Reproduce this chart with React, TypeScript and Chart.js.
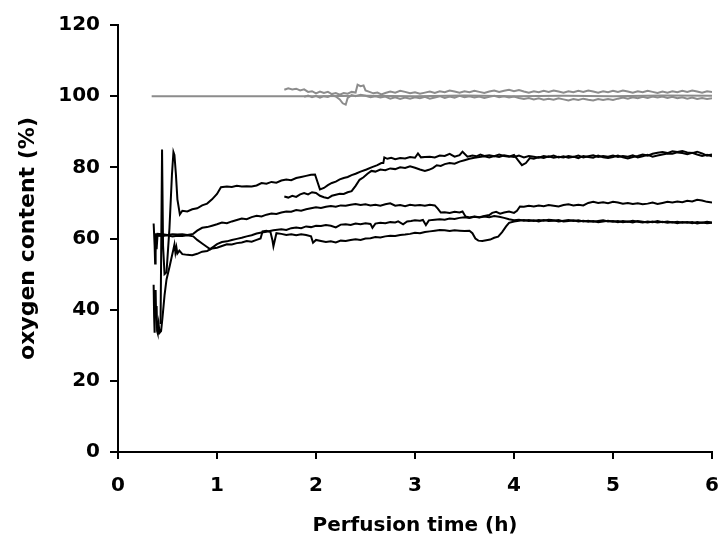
import React, { useEffect, useRef } from "react";
import { Chart, registerables } from "chart.js";

Chart.register(...registerables);

const X_MIN = 0;
const X_MAX = 6;
const Y_MIN = 0;
const Y_MAX = 120;
const X_TITLE = "Perfusion time (h)";
const Y_TITLE = "oxygen content (%)";

// [time (h), oxygen content (%)]
const grey1: [number, number][] = [
  [0.34, 100], [1.0, 100], [1.7, 100], [2.0, 100], [2.5, 100.1], [3.0, 100], [3.5, 100.2],
  [4.0, 100], [4.5, 100.1], [5.0, 100], [5.5, 100.2], [6.0, 100.1],
];

const grey2: [number, number][] = [
  [1.68, 101.8], [1.72, 102.2], [1.76, 101.9], [1.8, 102.1], [1.84, 101.6], [1.88, 101.9], [1.92, 101.2],
  [1.96, 101.4], [2.0, 100.8], [2.04, 101.3], [2.08, 100.9], [2.12, 101.2], [2.16, 100.6], [2.2, 100.9],
  [2.24, 100.4], [2.28, 100.9], [2.32, 100.7], [2.36, 101.2], [2.4, 101.0], [2.42, 103.2], [2.45, 102.8],
  [2.48, 103.0], [2.5, 101.6], [2.54, 101.2], [2.58, 100.8], [2.62, 101.0], [2.66, 100.5], [2.7, 100.9],
  [2.75, 101.3], [2.8, 101.0], [2.85, 101.5], [2.9, 101.2], [2.95, 100.8], [3.0, 101.1], [3.05, 100.7],
  [3.1, 101.0], [3.15, 101.3], [3.2, 100.9], [3.25, 101.4], [3.3, 101.1], [3.35, 101.6], [3.4, 101.3],
  [3.45, 101.0], [3.5, 101.4], [3.55, 101.1], [3.6, 101.5], [3.65, 101.2], [3.7, 100.9], [3.75, 101.3],
  [3.8, 101.6], [3.85, 101.2], [3.9, 101.5], [3.95, 101.8], [4.0, 101.4], [4.05, 101.7], [4.1, 101.3],
  [4.15, 101.0], [4.2, 101.4], [4.25, 101.1], [4.3, 101.5], [4.35, 101.2], [4.4, 101.6], [4.45, 101.3],
  [4.5, 101.0], [4.55, 101.4], [4.6, 101.1], [4.65, 101.5], [4.7, 101.2], [4.75, 101.6], [4.8, 101.3],
  [4.85, 101.0], [4.9, 101.4], [4.95, 101.1], [5.0, 101.5], [5.05, 101.2], [5.1, 101.6], [5.15, 101.3],
  [5.2, 101.0], [5.25, 101.4], [5.3, 101.1], [5.35, 101.5], [5.4, 101.2], [5.45, 100.9], [5.5, 101.3],
  [5.55, 101.0], [5.6, 101.4], [5.65, 101.1], [5.7, 101.5], [5.75, 101.2], [5.8, 101.6], [5.85, 101.3],
  [5.9, 101.0], [5.95, 101.4], [6.0, 101.2],
];

const grey3: [number, number][] = [
  [1.88, 99.8], [1.92, 100.2], [1.96, 99.7], [2.0, 100.1], [2.04, 99.6], [2.08, 100.0], [2.12, 99.8],
  [2.16, 100.3], [2.2, 99.9], [2.24, 99.1], [2.27, 98.0], [2.3, 97.6], [2.32, 99.5], [2.36, 100.3],
  [2.4, 100.0], [2.45, 100.4], [2.5, 100.1], [2.55, 99.7], [2.6, 100.0], [2.65, 99.6], [2.7, 99.9],
  [2.75, 99.3], [2.8, 99.7], [2.85, 99.2], [2.9, 99.6], [2.95, 99.3], [3.0, 99.7], [3.05, 99.4],
  [3.1, 99.8], [3.15, 99.3], [3.2, 99.6], [3.25, 100.0], [3.3, 99.5], [3.35, 99.9], [3.4, 99.6],
  [3.45, 100.1], [3.5, 99.7], [3.55, 100.0], [3.6, 99.6], [3.65, 99.9], [3.7, 99.5], [3.75, 99.8],
  [3.8, 100.1], [3.85, 99.7], [3.9, 100.0], [3.95, 99.6], [4.0, 99.9], [4.05, 99.5], [4.1, 99.2],
  [4.15, 99.5], [4.2, 99.1], [4.25, 99.4], [4.3, 99.0], [4.35, 99.3], [4.4, 99.0], [4.45, 99.4],
  [4.5, 99.1], [4.55, 98.8], [4.6, 99.2], [4.65, 98.9], [4.7, 99.3], [4.75, 99.0], [4.8, 98.8],
  [4.85, 99.2], [4.9, 98.9], [4.95, 99.2], [5.0, 98.9], [5.05, 99.3], [5.1, 99.6], [5.15, 99.3],
  [5.2, 99.7], [5.25, 99.4], [5.3, 99.8], [5.35, 99.5], [5.4, 99.9], [5.45, 99.6], [5.5, 99.9],
  [5.55, 99.5], [5.6, 99.8], [5.65, 99.4], [5.7, 99.7], [5.75, 99.3], [5.8, 99.6], [5.85, 99.2],
  [5.9, 99.5], [5.95, 99.2], [6.0, 99.4],
];

const upper1: [number, number][] = [
  [0.43, 36], [0.445, 85], [0.455, 58], [0.47, 50], [0.49, 50.5], [0.52, 63], [0.545, 78], [0.56, 84.3],
  [0.57, 83.5], [0.585, 78], [0.6, 71], [0.625, 66.8], [0.65, 67.8], [0.7, 67.6], [0.75, 68.2], [0.8, 68.5],
  [0.85, 69.3], [0.9, 69.8], [0.95, 71.0], [1.0, 72.5], [1.04, 74.4], [1.1, 74.6], [1.15, 74.5], [1.2, 74.8],
  [1.25, 74.6], [1.3, 74.7], [1.35, 74.6], [1.4, 74.9], [1.45, 75.6], [1.5, 75.4], [1.55, 75.9], [1.6, 75.7],
  [1.65, 76.3], [1.7, 76.6], [1.75, 76.4], [1.8, 77.0], [1.85, 77.3], [1.9, 77.6], [1.95, 77.9], [1.99, 78.0],
  [2.04, 73.8], [2.08, 74.2], [2.12, 75.0], [2.16, 75.6], [2.2, 76.0], [2.24, 76.6], [2.28, 77.0], [2.32, 77.3],
  [2.36, 77.8], [2.4, 78.2], [2.45, 78.8], [2.51, 79.4], [2.56, 80.0], [2.62, 80.6], [2.66, 81.2], [2.68, 81.2],
  [2.69, 82.8], [2.72, 82.4], [2.76, 82.7], [2.8, 82.3], [2.85, 82.6], [2.9, 82.5], [2.95, 82.9], [3.0, 82.7],
  [3.03, 83.9], [3.06, 82.8], [3.1, 82.9], [3.15, 83.0], [3.2, 82.8], [3.25, 83.3], [3.3, 83.2], [3.35, 83.8],
  [3.4, 83.0], [3.45, 83.4], [3.48, 84.4], [3.53, 83.0], [3.58, 83.3], [3.62, 83.1], [3.66, 83.6], [3.7, 83.2],
  [3.75, 83.4], [3.8, 83.1], [3.85, 83.6], [3.9, 83.2], [3.95, 83.0], [4.0, 83.5], [4.04, 82.0], [4.08, 80.6],
  [4.12, 81.2], [4.16, 82.6], [4.2, 82.4], [4.25, 82.9], [4.3, 82.6], [4.35, 83.1], [4.4, 82.7], [4.45, 83.0],
  [4.5, 82.8], [4.55, 83.2], [4.6, 82.9], [4.65, 83.3], [4.7, 82.8], [4.75, 83.1], [4.8, 83.4], [4.85, 82.9],
  [4.9, 83.2], [4.95, 83.0], [5.0, 83.3], [5.05, 82.9], [5.1, 83.2], [5.15, 83.0], [5.2, 83.4], [5.25, 82.8],
  [5.3, 83.1], [5.35, 83.5], [5.4, 83.0], [5.45, 83.3], [5.5, 83.6], [5.55, 83.9], [5.6, 83.8], [5.65, 84.2],
  [5.7, 84.0], [5.75, 83.7], [5.8, 84.1], [5.85, 83.6], [5.9, 83.2], [5.95, 83.5], [6.0, 83.1],
];

const upper2: [number, number][] = [
  [1.68, 71.8], [1.72, 71.5], [1.76, 72.0], [1.8, 71.7], [1.84, 72.4], [1.88, 72.8], [1.92, 72.4], [1.96, 73.0],
  [2.0, 72.8], [2.04, 72.0], [2.08, 71.6], [2.12, 71.3], [2.16, 72.0], [2.2, 72.3], [2.24, 72.6], [2.28, 72.5],
  [2.32, 73.0], [2.36, 73.3], [2.4, 74.8], [2.44, 76.5], [2.48, 77.2], [2.52, 78.2], [2.56, 79.0], [2.6, 78.8],
  [2.65, 79.4], [2.7, 79.2], [2.75, 79.7], [2.8, 79.5], [2.85, 80.0], [2.9, 79.8], [2.95, 80.3], [3.0, 79.9],
  [3.05, 79.4], [3.1, 79.0], [3.14, 79.3], [3.18, 79.8], [3.22, 80.6], [3.26, 80.4], [3.3, 80.9], [3.35, 81.2],
  [3.4, 81.0], [3.45, 81.6], [3.5, 82.0], [3.55, 82.4], [3.6, 82.7], [3.65, 82.9], [3.7, 83.1], [3.75, 82.8],
  [3.8, 83.2], [3.85, 82.9], [3.9, 83.4], [3.95, 83.1], [4.0, 82.9], [4.05, 83.3], [4.1, 82.8], [4.15, 83.2],
  [4.2, 83.0], [4.25, 82.7], [4.3, 83.2], [4.35, 82.9], [4.4, 83.3], [4.45, 82.8], [4.5, 83.1], [4.55, 82.7],
  [4.6, 83.0], [4.65, 82.6], [4.7, 83.2], [4.75, 82.9], [4.8, 82.7], [4.85, 83.3], [4.9, 82.8], [4.95, 82.6],
  [5.0, 82.9], [5.05, 83.3], [5.1, 82.8], [5.15, 82.5], [5.2, 82.9], [5.25, 83.2], [5.3, 83.6], [5.35, 83.3],
  [5.4, 83.8], [5.45, 84.1], [5.5, 84.3], [5.55, 84.0], [5.6, 84.5], [5.65, 84.3], [5.7, 84.6], [5.75, 84.2],
  [5.8, 84.0], [5.85, 84.4], [5.9, 83.9], [5.95, 83.3], [6.0, 83.6],
];

const middle1: [number, number][] = [
  [0.36, 64.2], [0.37, 58], [0.375, 53], [0.38, 56], [0.385, 61.5], [0.39, 57], [0.4, 61.3], [0.45, 61.2],
  [0.5, 61.0], [0.55, 61.2], [0.6, 61.1], [0.65, 61.2], [0.7, 61.0], [0.76, 61.3], [0.8, 62.2], [0.85, 63.0],
  [0.9, 63.2], [0.95, 63.6], [1.0, 64.0], [1.05, 64.5], [1.1, 64.3], [1.15, 64.8], [1.2, 65.2], [1.25, 65.6],
  [1.3, 65.4], [1.35, 66.0], [1.4, 66.4], [1.45, 66.2], [1.5, 66.7], [1.55, 67.0], [1.6, 66.9], [1.65, 67.3],
  [1.7, 67.6], [1.75, 67.5], [1.8, 68.0], [1.85, 67.8], [1.9, 68.2], [1.95, 68.5], [2.0, 68.8], [2.05, 68.6],
  [2.1, 68.9], [2.15, 69.1], [2.2, 68.9], [2.25, 69.3], [2.3, 69.2], [2.35, 69.5], [2.4, 69.7], [2.45, 69.4],
  [2.5, 69.6], [2.55, 69.3], [2.6, 69.5], [2.65, 69.2], [2.7, 69.6], [2.75, 69.9], [2.8, 69.2], [2.85, 69.4],
  [2.9, 69.1], [2.95, 69.5], [3.0, 69.3], [3.05, 69.4], [3.1, 69.2], [3.15, 69.5], [3.2, 69.3], [3.23, 68.4],
  [3.26, 67.3], [3.3, 67.4], [3.35, 67.2], [3.4, 67.5], [3.45, 67.3], [3.48, 67.6], [3.51, 66.2], [3.55, 65.9],
  [3.6, 66.2], [3.65, 66.0], [3.7, 66.3], [3.75, 66.6], [3.78, 67.2], [3.82, 67.5], [3.86, 67.0], [3.9, 67.3],
  [3.95, 67.6], [4.0, 67.2], [4.03, 67.8], [4.06, 69.0], [4.1, 68.9], [4.15, 69.2], [4.2, 69.0], [4.25, 69.3],
  [4.3, 69.1], [4.35, 69.4], [4.4, 69.2], [4.45, 69.0], [4.5, 69.4], [4.55, 69.6], [4.6, 69.3], [4.65, 69.5],
  [4.7, 69.3], [4.75, 70.0], [4.8, 70.3], [4.85, 70.0], [4.9, 70.2], [4.95, 69.9], [5.0, 70.3], [5.05, 70.1],
  [5.1, 69.8], [5.15, 70.0], [5.2, 69.7], [5.25, 69.9], [5.3, 69.6], [5.35, 69.8], [5.4, 70.1], [5.45, 69.7],
  [5.5, 70.0], [5.55, 70.3], [5.6, 70.1], [5.65, 70.4], [5.7, 70.2], [5.75, 70.6], [5.8, 70.4], [5.85, 70.9],
  [5.9, 70.7], [5.95, 70.3], [6.0, 70.1],
];

const lower1: [number, number][] = [
  [0.4, 60.8], [0.45, 60.7], [0.5, 60.9], [0.55, 60.6], [0.6, 60.8], [0.65, 60.7], [0.7, 60.9], [0.76, 60.6],
  [0.8, 59.6], [0.85, 58.6], [0.9, 57.6], [0.93, 57.0], [0.97, 57.8], [1.0, 58.4], [1.05, 59.0], [1.1, 59.2],
  [1.15, 59.6], [1.2, 59.9], [1.25, 60.2], [1.3, 60.6], [1.35, 60.9], [1.4, 61.4], [1.45, 61.7], [1.5, 61.9],
  [1.57, 62.3], [1.65, 62.6], [1.7, 62.4], [1.75, 62.9], [1.8, 63.1], [1.85, 62.9], [1.9, 63.4], [1.95, 63.2],
  [2.0, 63.6], [2.05, 63.5], [2.1, 63.8], [2.15, 63.6], [2.2, 63.1], [2.25, 63.9], [2.3, 64.0], [2.35, 63.8],
  [2.4, 64.2], [2.45, 64.0], [2.5, 64.3], [2.55, 64.1], [2.57, 63.0], [2.6, 64.2], [2.65, 64.4], [2.7, 64.3],
  [2.75, 64.6], [2.8, 64.5], [2.83, 64.8], [2.88, 64.0], [2.92, 64.8], [2.96, 64.9], [3.0, 65.1], [3.05, 65.0],
  [3.08, 65.2], [3.11, 63.8], [3.14, 65.1], [3.2, 65.3], [3.25, 65.4], [3.3, 65.3], [3.35, 65.6], [3.4, 65.5],
  [3.45, 65.8], [3.5, 66.0], [3.55, 65.8], [3.6, 66.1], [3.65, 65.9], [3.7, 66.2], [3.75, 66.0], [3.8, 66.3],
  [3.85, 66.1], [3.9, 65.8], [3.95, 65.4], [4.0, 65.1], [4.05, 65.3], [4.1, 65.0], [4.15, 65.2], [4.2, 64.9],
  [4.25, 65.2], [4.3, 65.0], [4.35, 65.3], [4.4, 65.1], [4.45, 64.8], [4.5, 65.0], [4.55, 65.2], [4.6, 64.9],
  [4.65, 65.1], [4.7, 64.8], [4.75, 65.0], [4.8, 64.7], [4.85, 64.9], [4.9, 65.1], [4.95, 64.8], [5.0, 64.9],
  [5.05, 64.6], [5.1, 64.9], [5.15, 64.7], [5.2, 65.0], [5.25, 64.7], [5.3, 64.5], [5.35, 64.8], [5.4, 64.6],
  [5.45, 64.9], [5.5, 64.6], [5.55, 64.8], [5.6, 64.5], [5.65, 64.7], [5.7, 64.4], [5.75, 64.6], [5.8, 64.3],
  [5.85, 64.6], [5.9, 64.4], [5.95, 64.7], [6.0, 64.5],
];

const lower2: [number, number][] = [
  [0.36, 47], [0.365, 38], [0.37, 33.5], [0.375, 44], [0.38, 45.5], [0.385, 38], [0.39, 41], [0.395, 34],
  [0.4, 33.5], [0.41, 36], [0.42, 33.5], [0.435, 34], [0.45, 38], [0.47, 44], [0.49, 48.5], [0.52, 52],
  [0.54, 54.5], [0.56, 57.0], [0.57, 58.3], [0.58, 56.0], [0.59, 57.5], [0.6, 55.8], [0.62, 56.6], [0.65, 55.6],
  [0.7, 55.4], [0.75, 55.3], [0.8, 55.7], [0.85, 56.3], [0.9, 56.5], [0.95, 57.2], [1.0, 57.4], [1.05, 57.9],
  [1.1, 58.4], [1.15, 58.3], [1.2, 58.7], [1.25, 58.9], [1.3, 59.3], [1.35, 59.1], [1.4, 59.6], [1.44, 60.0],
  [1.46, 62.0], [1.5, 62.2], [1.54, 61.8], [1.56, 59.5], [1.57, 57.8], [1.58, 59.0], [1.6, 61.5], [1.65, 61.3],
  [1.7, 61.0], [1.75, 61.2], [1.8, 60.9], [1.85, 61.2], [1.9, 61.0], [1.95, 60.6], [1.97, 58.8], [2.0, 59.6],
  [2.05, 59.3], [2.1, 59.0], [2.15, 59.2], [2.2, 58.9], [2.25, 59.4], [2.3, 59.3], [2.35, 59.6], [2.4, 59.8],
  [2.45, 59.6], [2.5, 60.0], [2.55, 60.1], [2.6, 60.4], [2.65, 60.3], [2.7, 60.6], [2.75, 60.8], [2.8, 60.7],
  [2.85, 61.0], [2.9, 61.1], [2.95, 61.3], [3.0, 61.6], [3.05, 61.5], [3.1, 61.8], [3.15, 62.0], [3.2, 62.2],
  [3.25, 62.4], [3.3, 62.3], [3.35, 62.1], [3.4, 62.3], [3.45, 62.2], [3.5, 62.1], [3.55, 62.2], [3.58, 61.5],
  [3.61, 60.0], [3.64, 59.4], [3.68, 59.3], [3.72, 59.5], [3.76, 59.7], [3.8, 60.2], [3.84, 60.5], [3.88, 61.8],
  [3.92, 63.4], [3.95, 64.4], [4.0, 64.8], [4.05, 65.0], [4.1, 65.2], [4.15, 64.9], [4.2, 65.1], [4.25, 64.8],
  [4.3, 65.2], [4.35, 64.9], [4.4, 65.0], [4.45, 65.2], [4.5, 64.8], [4.55, 64.9], [4.6, 65.1], [4.65, 64.8],
  [4.7, 65.0], [4.75, 64.7], [4.8, 64.9], [4.85, 64.6], [4.9, 64.8], [4.95, 65.0], [5.0, 64.7], [5.05, 64.9],
  [5.1, 64.6], [5.15, 64.8], [5.2, 64.5], [5.25, 64.9], [5.3, 64.7], [5.35, 64.5], [5.4, 64.8], [5.45, 64.5],
  [5.5, 64.7], [5.55, 64.4], [5.6, 64.6], [5.65, 64.3], [5.7, 64.6], [5.75, 64.4], [5.8, 64.6], [5.85, 64.2],
  [5.9, 64.5], [5.95, 64.3], [6.0, 64.4],
];

const GREY_SERIES = [grey1, grey2, grey3];
const BLACK_SERIES = [upper1, upper2, middle1, lower1, lower2];

const FONT = "'DejaVu Sans', 'Liberation Sans', Arial, sans-serif";

export default function App() {
  const ref = useRef<HTMLCanvasElement>(null);

  useEffect(() => {
    document.body.style.margin = "0";
    const toPts = (a: [number, number][]) => a.map(([x, y]) => ({ x, y }));
    const datasets: any[] = [];
    GREY_SERIES.forEach((s, i) =>
      datasets.push({
        label: "grey" + i,
        data: toPts(s),
        borderColor: "#8c8c8c",
        borderWidth: 2,
        pointRadius: 0,
        fill: false,
      })
    );
    BLACK_SERIES.forEach((s, i) =>
      datasets.push({
        label: "black" + i,
        data: toPts(s),
        borderColor: "#000000",
        borderWidth: 2,
        pointRadius: 0,
        fill: false,
      })
    );

    const chart = new Chart(ref.current!, {
      type: "line",
      data: { datasets },
      options: {
        responsive: false,
        animation: false,
        layout: { padding: { left: 0, right: 8, top: 25, bottom: 0 } },
        plugins: { legend: { display: false }, tooltip: { enabled: false } },
        elements: { line: { tension: 0 }, point: { radius: 0 } },
        scales: {
          x: {
            type: "linear",
            min: X_MIN,
            max: X_MAX,
            ticks: {
              stepSize: 1,
              color: "#000",
              padding: 15,
              font: { family: FONT, size: 20, weight: "bold" },
            },
            grid: { drawOnChartArea: false, drawTicks: true, tickLength: 7, color: "#000", lineWidth: 2 },
            border: { color: "#000", width: 2 },
            title: {
              display: true,
              text: X_TITLE,
              color: "#000",
              font: { family: FONT, size: 20, weight: "bold" },
              padding: { top: 0, bottom: 4 },
            },
            afterFit: (s: any) => {
              s.height = 90;
              s.paddingLeft = 0;
              s.paddingRight = 0;
            },
          },
          y: {
            min: Y_MIN,
            max: Y_MAX,
            ticks: {
              stepSize: 20,
              color: "#000",
              padding: 10,
              font: { family: FONT, size: 20, weight: "bold" },
            },
            grid: { drawOnChartArea: false, drawTicks: true, tickLength: 8, color: "#000", lineWidth: 2 },
            border: { color: "#000", width: 2 },
            title: {
              display: true,
              text: Y_TITLE,
              color: "#000",
              font: { family: FONT, size: 22, weight: "bold" },
              padding: { top: 15, bottom: 0 },
            },
            afterFit: (s: any) => {
              s.width = 118;
              s.paddingTop = 0;
              s.paddingBottom = 0;
            },
          },
        },
      } as any,
    });
    return () => chart.destroy();
  }, []);

  return <canvas ref={ref} width={720} height={542} style={{ display: "block" }} />;
}
